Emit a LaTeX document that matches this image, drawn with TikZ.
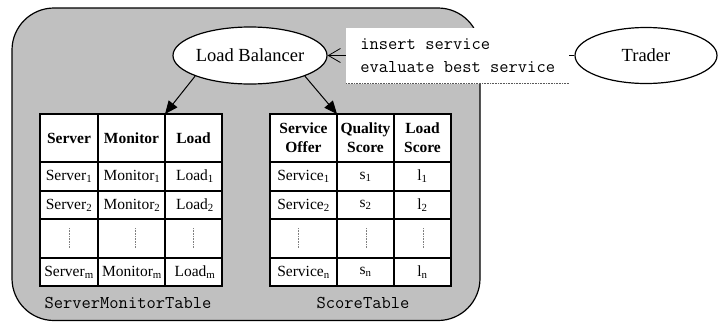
\documentclass[tikz,border=0pt]{standalone}
\usepackage{fontspec}
\setmainfont{Liberation Serif}
\usepackage{tikz}
\usetikzlibrary{arrows.meta,shapes.geometric}

\definecolor{panel}{RGB}{192,192,192}

\tikzset{
  tbl/.style={line width=1.2pt, fill=white},
  head/.style={font=\fontsize{15.5}{19}\selectfont\bfseries, align=center, inner sep=0pt},
  cell/.style={font=\fontsize{15.5}{19}\selectfont, inner sep=0pt},
  oval/.style={ellipse, draw, line width=1.2pt, fill=white, inner sep=0pt,
    font=\fontsize{18.5}{22}\selectfont},
  tname/.style={font=\fontsize{18}{22}\ttfamily, inner sep=0pt},
  vdots/.style={densely dotted, gray, line width=0.6pt}
}

\begin{document}
\begin{tikzpicture}[x=1pt, y=-1pt, >=Triangle]
\useasboundingbox (0,0) rectangle (719,322);

% --- PARAMETERS ---
\def\rowA{176.5} % first data row
\def\rowB{205}   % second data row
\def\rowL{272}   % last data row

% --- LOAD BALANCER PANEL ---
\draw[line width=1.2pt, fill=panel, rounded corners=42pt] (12,8) rectangle (480,320.5);

% --- ELLIPSES ---
\node[oval, minimum width=154, minimum height=57] (lb) at (250,55.5) {Load Balancer};
\node[oval, minimum width=142, minimum height=56] (trader) at (646,55.5) {Trader};

% --- TRADER TO LOAD BALANCER ---
\draw[-{Straight Barb[length=12pt,width=14pt]}, line width=0.8pt] (trader) -- (lb);
\node[fill=white, anchor=west, minimum width=223, minimum height=56, inner sep=0pt,
  align=left, font=\fontsize{18}{23}\ttfamily] (msg) at (346,55.5)
  {insert service\\evaluate best service};
\draw[densely dotted, gray!70!black, line width=0.6pt] (msg.south west) -- (msg.south east);

% --- SERVER MONITOR TABLE ---
\draw[tbl] (40,114) rectangle (222,286);
\foreach \yy in {162,191,219,258} \draw[line width=1.2pt] (40,\yy) -- (222,\yy);
\foreach \xx in {98,165} \draw[line width=1.2pt] (\xx,114) -- (\xx,286);
\coordinate (smt-top) at (165,114);

\node[head] (smt-h1) at (69,138) {Server};
\node[head] (smt-h2) at (131.5,138) {Monitor};
\node[head] (smt-h3) at (193.5,138) {Load};
\foreach \yy/\k in {\rowA/1,\rowB/2,\rowL/m} {
  \node[cell] (srv-\k) at (69,\yy) {Server\textsubscript{\k}};
  \node[cell] (mon-\k) at (132,\yy) {Monitor\textsubscript{\k}};
  \node[cell] (load-\k) at (195,\yy) {Load\textsubscript{\k}};
}
\foreach \xx in {69,135,193} \draw[vdots] (\xx,228) -- (\xx,248);
\node[tname] (smt-name) at (128,303) {ServerMonitorTable};

% --- SCORE TABLE ---
\draw[tbl] (270,114) rectangle (451,286);
\foreach \yy in {162,191,219,258} \draw[line width=1.2pt] (270,\yy) -- (451,\yy);
\foreach \xx in {337,394} \draw[line width=1.2pt] (\xx,114) -- (\xx,286);
\coordinate (st-top) at (337,114);

\node[head] (st-h1) at (303.5,138) {Service\\Offer};
\node[head] (st-h2) at (365.5,138) {Quality\\Score};
\node[head] (st-h3) at (422.5,138) {Load\\Score};
\foreach \yy/\k in {\rowA/1,\rowB/2,\rowL/n} {
  \node[cell] (svc-\k) at (303.5,\yy) {Service\textsubscript{\k}};
  \node[cell] (qs-\k) at (365.5,\yy) {s\textsubscript{\k}};
  \node[cell] (ls-\k) at (422.5,\yy) {l\textsubscript{\k}};
}
\foreach \xx in {298,366,423} \draw[vdots] (\xx,228) -- (\xx,248);
\node[tname] (st-name) at (363,303) {ScoreTable};

% --- ARROWS TO TABLES ---
\draw[{Triangle[length=13pt,width=11pt]}-, line width=1pt] (smt-top) -- (lb.south west);
\draw[{Triangle[length=13pt,width=11pt]}-, line width=1pt] (st-top) -- (lb.south east);

\end{tikzpicture}
\end{document}
